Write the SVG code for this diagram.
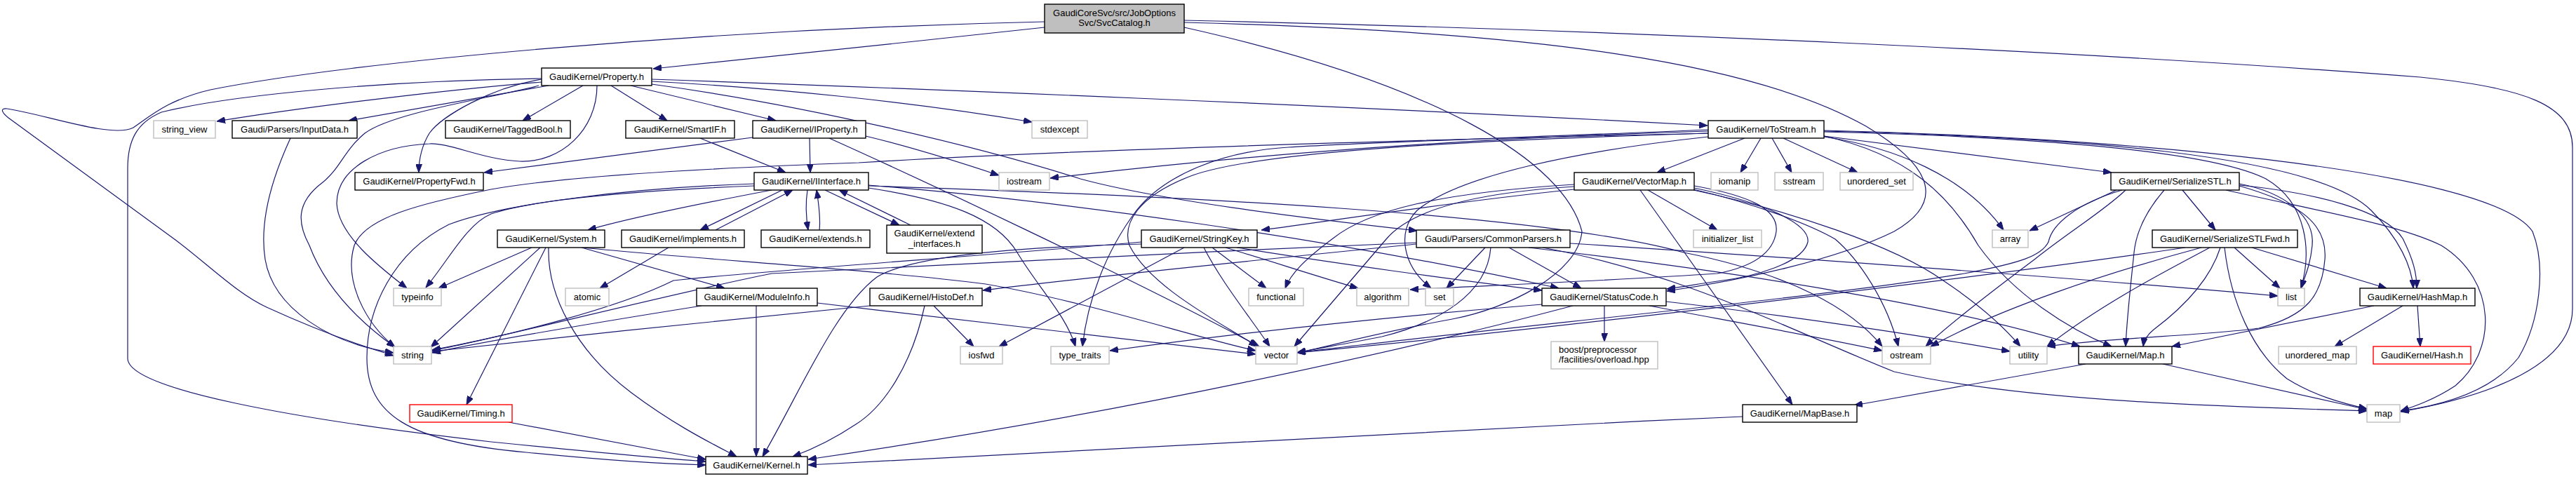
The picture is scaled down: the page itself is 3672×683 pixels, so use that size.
<svg xmlns="http://www.w3.org/2000/svg" width="3672" height="683" viewBox="0 0 3672 683">
<style>
.e{fill:none;stroke:#191970;stroke-width:1.2;marker-end:url(#ah)}
.d{fill:#ffffff;stroke:#000000;stroke-width:1.4}
.s{fill:#ffffff;stroke:#bfbfbf;stroke-width:1.4}
.r{fill:#ffffff;stroke:#ff0000;stroke-width:1.4}
.root{fill:#bfbfbf;stroke:#000000;stroke-width:1.4}
text{font-family:"Liberation Sans",Arial,Helvetica,sans-serif;font-size:13px;fill:#000000;text-anchor:middle}
text.l{text-anchor:start}
</style>
<defs>
<marker id="ah" markerUnits="userSpaceOnUse" markerWidth="12" markerHeight="9" refX="12" refY="4.5" orient="auto">
<path d="M0,0 L12,4.5 L0,9 z" fill="#191970" stroke="#191970" stroke-width="1"/>
</marker>
</defs>
<rect x="0" y="0" width="3672" height="683" fill="#ffffff"/>
<g id="connectors">
<path class="e" d="M1489,39 C1300,60 1060,84 931,98"/>
<path class="e" d="M1489,31 C1000,42 500,88 300,128 C240,142 215,165 190,182 C160,198 60,162 10,155 C0,154 2,160 12,168 L250,342 C300,380 340,420 380,438 C450,470 510,492 561,507"/>
<path class="e" d="M1688,29 C2300,42 3000,75 3450,110 C3600,125 3667,150 3667,210 L3667,440 C3667,520 3550,565 3422,587"/>
<path class="e" d="M1688,32 C2200,45 2500,90 2660,180 C2760,240 2770,290 2700,330 C2620,370 2480,400 2376,415"/>
<path class="e" d="M1688,39 C2050,120 2230,230 2255,330 C2250,390 2150,440 2070,455 C1960,475 1890,495 1849,503"/>
<path class="e" d="M772,117 C650,127 450,150 309,173"/>
<path class="e" d="M782,122 L497,172"/>
<path class="e" d="M772,113 C700,125 630,165 612,190 C600,210 597,230 597,246"/>
<path class="e" d="M772,112 C550,115 330,135 230,160 C195,175 182,200 182,240 L182,511 C182,555 420,598 700,630 C850,645 950,654 1006,658"/>
<path class="e" d="M768,122 C700,140 560,160 520,190 C490,215 485,240 460,260 C420,290 425,320 441,350 C460,400 500,450 563,495"/>
<path class="e" d="M851,122 C851,185 800,232 741,230 C690,228 640,203 612,205 C540,208 480,240 480,290 C482,335 540,380 580,411"/>
<path class="e" d="M831,122 L745,172"/>
<path class="e" d="M871,122 L951,172"/>
<path class="e" d="M899,122 L1106,172"/>
<path class="e" d="M929,116 C1100,125 1300,145 1471,174"/>
<path class="e" d="M929,113 C1300,126 1900,150 2434,179"/>
<path class="e" d="M929,120 C1150,150 1400,210 1540,255 C1650,285 1850,310 2020,329"/>
<path class="e" d="M1073,196 L690,246"/>
<path class="e" d="M1154,197 L1155,246"/>
<path class="e" d="M1234,194 C1300,210 1370,232 1424,250"/>
<path class="e" d="M1182,197 C1300,250 1600,390 1795,494"/>
<path class="e" d="M998,197 L1120,246"/>
<path class="e" d="M1100,271 C1000,290 900,310 838,328"/>
<path class="e" d="M1115,271 L998,328"/>
<path class="e" d="M1020,328 L1130,271"/>
<path class="e" d="M1151,271 C1148,290 1149,310 1152,328"/>
<path class="e" d="M1168,328 C1170,310 1167,290 1164,271"/>
<path class="e" d="M1176,271 L1282,321"/>
<path class="e" d="M1298,321 L1196,271"/>
<path class="e" d="M1075,265 C900,272 760,285 700,305 C665,320 640,370 607,410"/>
<path class="e" d="M1075,262 C900,268 720,290 640,320 C560,360 523,440 523,510 C523,590 580,630 750,645 C880,658 960,662 1006,663"/>
<path class="e" d="M1238,264 C1500,285 1900,340 2222,411"/>
<path class="e" d="M1238,265 C1700,280 2200,305 2400,360 C2550,390 2640,440 2683,494"/>
<path class="e" d="M1238,268 C1350,285 1420,310 1450,360 C1480,410 1520,450 1533,494"/>
<path class="e" d="M2435,190 C2000,200 1500,215 1224,232 C1000,240 800,252 700,270 C600,290 520,310 505,350 C490,400 520,460 563,495"/>
<path class="e" d="M414,197 C385,260 370,320 378,370 C390,440 470,490 561,503"/>
<path class="e" d="M758,353 L625,411"/>
<path class="e" d="M770,353 L614,495"/>
<path class="e" d="M778,353 L665,577"/>
<path class="e" d="M782,353 C780,420 820,500 900,560 C960,605 1010,630 1050,651"/>
<path class="e" d="M829,353 L1033,411"/>
<path class="e" d="M830,353 C1000,370 1250,385 1405,405 C1550,430 1700,480 1790,500"/>
<path class="e" d="M1165,432 C1400,460 1650,490 1790,505"/>
<path class="e" d="M1078,436 L1078,651"/>
<path class="e" d="M1000,436 C850,460 700,485 616,503"/>
<path class="e" d="M725,602 L1006,655"/>
<path class="e" d="M953,353 L855,411"/>
<path class="e" d="M1331,436 L1388,494"/>
<path class="e" d="M1318,436 C1300,520 1260,580 1220,605 C1190,625 1160,640 1130,651"/>
<path class="e" d="M1240,436 C1100,450 800,480 616,501"/>
<path class="e" d="M1627,348 C1450,352 1300,365 1250,395 C1190,440 1140,560 1087,651"/>
<path class="e" d="M1627,345 C1400,365 1100,385 960,400 C880,440 720,480 616,499"/>
<path class="e" d="M1688,353 L1424,494"/>
<path class="e" d="M1716,353 C1740,400 1780,450 1810,494"/>
<path class="e" d="M1728,353 L1805,411"/>
<path class="e" d="M1747,353 C1820,375 1880,395 1936,411"/>
<path class="e" d="M1763,353 C1900,375 2080,400 2198,414"/>
<path class="e" d="M2244,270 C2050,290 1900,315 1798,328"/>
<path class="e" d="M2244,263 C2050,275 1950,300 1900,340 C1860,370 1840,390 1832,411"/>
<path class="e" d="M2244,266 C2100,275 2010,300 1976,341 L1845,494"/>
<path class="e" d="M2415,265 C2500,280 2535,300 2532,330 C2528,360 2500,380 2448,390 C2300,400 2100,408 2010,413"/>
<path class="e" d="M2415,268 C2520,290 2580,320 2577,345 C2570,375 2500,395 2448,401 C2420,405 2400,409 2376,412"/>
<path class="e" d="M2349,271 L2448,328"/>
<path class="e" d="M2338,271 L2555,577"/>
<path class="e" d="M2414,270 C2500,290 2580,320 2616,341 C2650,370 2690,430 2706,494"/>
<path class="e" d="M2414,271 C2550,300 2700,350 2770,400 C2830,440 2860,470 2880,494"/>
<path class="e" d="M2487,197 L2362,246"/>
<path class="e" d="M2510,197 L2481,246"/>
<path class="e" d="M2526,197 L2554,246"/>
<path class="e" d="M2542,197 L2648,246"/>
<path class="e" d="M2600,194 L3010,246"/>
<path class="e" d="M2435,187 C2000,200 1700,230 1497,254"/>
<path class="e" d="M2435,185 C2200,195 1950,203 1836,210 C1740,216 1660,250 1620,300 C1575,360 1550,430 1543,494"/>
<path class="e" d="M2435,195 C2250,215 2080,250 2020,300 C1990,330 2000,380 2040,411"/>
<path class="e" d="M2435,190 C2100,200 1800,215 1700,250 C1620,280 1600,320 1610,350 C1640,410 1740,460 1792,494"/>
<path class="e" d="M2600,195 C2700,210 2800,250 2856,328"/>
<path class="e" d="M2600,194 C2720,220 2780,280 2820,350 C2870,420 2950,470 3010,494"/>
<path class="e" d="M2600,188 C2900,195 3150,215 3230,255 C3290,290 3295,360 3280,411"/>
<path class="e" d="M2600,187 C2950,195 3300,220 3380,300 C3420,340 3438,380 3440,411"/>
<path class="e" d="M2600,186 C3000,195 3550,240 3610,330 C3630,380 3620,460 3590,510 C3550,560 3480,578 3422,586"/>
<path class="e" d="M3017,271 L2893,329"/>
<path class="e" d="M3025,271 C2960,290 2925,320 2920,345 C2910,365 2880,375 2800,390 C2600,425 2100,470 1849,503"/>
<path class="e" d="M3030,271 C3000,300 2950,330 2900,370 C2820,430 2770,470 2745,494"/>
<path class="e" d="M3085,271 C3060,300 3045,330 3042,360 C3038,400 3032,450 3030,494"/>
<path class="e" d="M3111,271 L3158,328"/>
<path class="e" d="M3192,262 C3260,275 3300,310 3296,350 C3293,380 3285,395 3280,411"/>
<path class="e" d="M3192,265 C3280,290 3318,320 3314,370 C3310,420 3290,450 3220,468 C3150,478 3000,482 2918,494"/>
<path class="e" d="M3193,264 C3300,275 3400,300 3425,340 C3440,370 3445,390 3445,411"/>
<path class="e" d="M3173,271 C3300,300 3420,320 3480,350 C3560,400 3560,500 3500,550 C3470,570 3440,580 3422,586"/>
<path class="e" d="M3185,353 L3250,411"/>
<path class="e" d="M3210,353 L3402,411"/>
<path class="e" d="M3171,353 C3180,430 3210,500 3260,540 C3300,565 3340,575 3374,583"/>
<path class="e" d="M3165,353 C3150,400 3110,440 3070,470 C3060,478 3056,486 3055,494"/>
<path class="e" d="M3150,353 C3100,380 3000,430 2918,494"/>
<path class="e" d="M3138,353 C3000,390 2850,440 2752,494"/>
<path class="e" d="M3115,353 C2900,385 2300,460 1849,503"/>
<path class="e" d="M2973,519 L2643,578"/>
<path class="e" d="M3083,519 L3374,584"/>
<path class="e" d="M3384,436 L3096,494"/>
<path class="e" d="M3425,436 L3328,494"/>
<path class="e" d="M3446,436 L3450,494"/>
<path class="e" d="M2484,594 C2000,615 1500,645 1152,663"/>
<path class="e" d="M2287,436 L2287,487"/>
<path class="e" d="M2242,436 C2000,500 1600,590 1152,655"/>
<path class="e" d="M2351,436 C2450,455 2580,478 2683,500"/>
<path class="e" d="M2375,430 C2550,450 2750,480 2865,501"/>
<path class="e" d="M2198,434 C2000,450 1800,470 1582,500"/>
<path class="e" d="M2117,353 L2062,411"/>
<path class="e" d="M2151,353 L2254,411"/>
<path class="e" d="M2019,348 C1800,370 1550,395 1401,414"/>
<path class="e" d="M2125,353 C2120,420 2050,460 1970,480 C1910,492 1870,498 1849,503"/>
<path class="e" d="M2019,346 C1700,360 1300,378 1100,390 C950,420 720,480 616,500"/>
<path class="e" d="M2238,347 C2600,370 3000,400 3247,422"/>
<path class="e" d="M2179,353 C2500,390 2800,440 2965,494"/>
<path class="e" d="M2199,353 C2400,390 2550,470 2700,530 C2900,575 3200,580 3374,586"/>
</g>
<g id="n_root"><rect class="root" x="1489" y="6" width="199" height="41"/><text x="1588.5" y="23">GaudiCoreSvc/src/JobOptions</text><text x="1588.5" y="37">Svc/SvcCatalog.h</text></g>
<g id="n_property"><rect class="d" x="772" y="97" width="157" height="25"/><text x="850.5" y="113.5">GaudiKernel/Property.h</text></g>
<g id="n_string_view"><rect class="s" x="219" y="172" width="88" height="25"/><text x="263" y="188.5">string_view</text></g>
<g id="n_inputdata"><rect class="d" x="331" y="172" width="178" height="25"/><text x="420" y="188.5">Gaudi/Parsers/InputData.h</text></g>
<g id="n_taggedbool"><rect class="d" x="635" y="172" width="178" height="25"/><text x="724" y="188.5">GaudiKernel/TaggedBool.h</text></g>
<g id="n_smartif"><rect class="d" x="892" y="172" width="155" height="25"/><text x="969.5" y="188.5">GaudiKernel/SmartIF.h</text></g>
<g id="n_iproperty"><rect class="d" x="1073" y="172" width="161" height="25"/><text x="1153.5" y="188.5">GaudiKernel/IProperty.h</text></g>
<g id="n_stdexcept"><rect class="s" x="1471" y="172" width="79" height="25"/><text x="1510.5" y="188.5">stdexcept</text></g>
<g id="n_tostream"><rect class="d" x="2435" y="172" width="165" height="25"/><text x="2517.5" y="188.5">GaudiKernel/ToStream.h</text></g>
<g id="n_propertyfwd"><rect class="d" x="506" y="246" width="183" height="25"/><text x="597.5" y="262.5">GaudiKernel/PropertyFwd.h</text></g>
<g id="n_iinterface"><rect class="d" x="1075" y="246" width="163" height="25"/><text x="1156.5" y="262.5">GaudiKernel/IInterface.h</text></g>
<g id="n_iostream"><rect class="s" x="1424" y="246" width="72" height="25"/><text x="1460" y="262.5">iostream</text></g>
<g id="n_vectormap"><rect class="d" x="2244" y="246" width="171" height="25"/><text x="2329.5" y="262.5">GaudiKernel/VectorMap.h</text></g>
<g id="n_iomanip"><rect class="s" x="2439" y="246" width="67" height="25"/><text x="2472.5" y="262.5">iomanip</text></g>
<g id="n_sstream"><rect class="s" x="2530" y="246" width="69" height="25"/><text x="2564.5" y="262.5">sstream</text></g>
<g id="n_unordered_set"><rect class="s" x="2623" y="246" width="104" height="25"/><text x="2675" y="262.5">unordered_set</text></g>
<g id="n_serializestl"><rect class="d" x="3009" y="246" width="183" height="25"/><text x="3100.5" y="262.5">GaudiKernel/SerializeSTL.h</text></g>
<g id="n_system"><rect class="d" x="709" y="328" width="153" height="25"/><text x="785.5" y="344.5">GaudiKernel/System.h</text></g>
<g id="n_implements"><rect class="d" x="886" y="328" width="175" height="25"/><text x="973.5" y="344.5">GaudiKernel/implements.h</text></g>
<g id="n_extends"><rect class="d" x="1085" y="328" width="155" height="25"/><text x="1162.5" y="344.5">GaudiKernel/extends.h</text></g>
<g id="n_extend_interfaces"><rect class="d" x="1264" y="321" width="136" height="40"/><text x="1332" y="337">GaudiKernel/extend</text><text x="1332" y="352">_interfaces.h</text></g>
<g id="n_stringkey"><rect class="d" x="1627" y="328" width="165" height="25"/><text x="1709.5" y="344.5">GaudiKernel/StringKey.h</text></g>
<g id="n_commonparsers"><rect class="d" x="2019" y="328" width="219" height="25"/><text x="2128.5" y="344.5">Gaudi/Parsers/CommonParsers.h</text></g>
<g id="n_initializer_list"><rect class="s" x="2414" y="328" width="97" height="25"/><text x="2462.5" y="344.5">initializer_list</text></g>
<g id="n_array"><rect class="s" x="2840" y="328" width="51" height="25"/><text x="2865.5" y="344.5">array</text></g>
<g id="n_serializestlfwd"><rect class="d" x="3068" y="328" width="207" height="25"/><text x="3171.5" y="344.5">GaudiKernel/SerializeSTLFwd.h</text></g>
<g id="n_typeinfo"><rect class="s" x="561" y="411" width="68" height="25"/><text x="595" y="427.5">typeinfo</text></g>
<g id="n_atomic"><rect class="s" x="806" y="411" width="62" height="25"/><text x="837" y="427.5">atomic</text></g>
<g id="n_moduleinfo"><rect class="d" x="993" y="411" width="172" height="25"/><text x="1079" y="427.5">GaudiKernel/ModuleInfo.h</text></g>
<g id="n_histodef"><rect class="d" x="1240" y="411" width="160" height="25"/><text x="1320" y="427.5">GaudiKernel/HistoDef.h</text></g>
<g id="n_functional"><rect class="s" x="1780" y="411" width="78" height="25"/><text x="1819" y="427.5">functional</text></g>
<g id="n_algorithm"><rect class="s" x="1934" y="411" width="74" height="25"/><text x="1971" y="427.5">algorithm</text></g>
<g id="n_set"><rect class="s" x="2032" y="411" width="40" height="25"/><text x="2052" y="427.5">set</text></g>
<g id="n_statuscode"><rect class="d" x="2198" y="411" width="177" height="25"/><text x="2286.5" y="427.5">GaudiKernel/StatusCode.h</text></g>
<g id="n_list"><rect class="s" x="3247" y="411" width="38" height="25"/><text x="3266" y="427.5">list</text></g>
<g id="n_hashmap"><rect class="d" x="3364" y="411" width="164" height="25"/><text x="3446" y="427.5">GaudiKernel/HashMap.h</text></g>
<g id="n_string"><rect class="s" x="561" y="494" width="54" height="25"/><text x="588" y="510.5">string</text></g>
<g id="n_iosfwd"><rect class="s" x="1369" y="494" width="60" height="25"/><text x="1399" y="510.5">iosfwd</text></g>
<g id="n_type_traits"><rect class="s" x="1498" y="494" width="83" height="25"/><text x="1539.5" y="510.5">type_traits</text></g>
<g id="n_vector"><rect class="s" x="1790" y="494" width="59" height="25"/><text x="1819.5" y="510.5">vector</text></g>
<g id="n_boost"><rect class="s" x="2211" y="487" width="152" height="39"/><text class="l" x="2222" y="503">boost/preprocessor</text><text class="l" x="2222" y="517">/facilities/overload.hpp</text></g>
<g id="n_ostream"><rect class="s" x="2683" y="494" width="69" height="25"/><text x="2717.5" y="510.5">ostream</text></g>
<g id="n_utility"><rect class="s" x="2865" y="494" width="53" height="25"/><text x="2891.5" y="510.5">utility</text></g>
<g id="n_map_h"><rect class="d" x="2963" y="494" width="133" height="25"/><text x="3029.5" y="510.5">GaudiKernel/Map.h</text></g>
<g id="n_unordered_map"><rect class="s" x="3248" y="494" width="111" height="25"/><text x="3303.5" y="510.5">unordered_map</text></g>
<g id="n_hash"><rect class="r" x="3383" y="494" width="139" height="25"/><text x="3452.5" y="510.5">GaudiKernel/Hash.h</text></g>
<g id="n_timing"><rect class="r" x="584" y="577" width="146" height="25"/><text x="657" y="593.5">GaudiKernel/Timing.h</text></g>
<g id="n_mapbase"><rect class="d" x="2484" y="577" width="163" height="25"/><text x="2565.5" y="593.5">GaudiKernel/MapBase.h</text></g>
<g id="n_map"><rect class="s" x="3374" y="577" width="47" height="25"/><text x="3397.5" y="593.5">map</text></g>
<g id="n_kernel"><rect class="d" x="1006" y="651" width="145" height="25"/><text x="1078.5" y="667.5">GaudiKernel/Kernel.h</text></g>
</svg>
